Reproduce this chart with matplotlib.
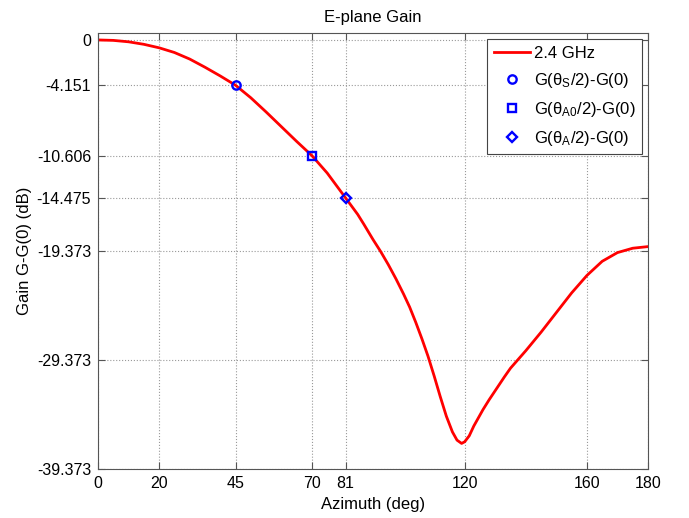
import matplotlib
matplotlib.use("Agg")
import matplotlib.pyplot as plt

plt.rcParams['font.family'] = ['Liberation Sans', 'DejaVu Sans']
plt.rcParams['mathtext.default'] = 'regular'

azimuth = [0, 5, 10, 15, 20, 25, 30, 35, 40, 45, 50, 55, 60, 65, 70, 75, 81, 85, 87,
           90, 92.5, 95, 97.5, 100, 102, 104, 106, 108, 110, 112, 114, 116, 117.5,
           119, 120, 121.5, 123, 126, 128, 130.5, 133, 135, 137.5, 140, 145, 150, 155,
           160, 165, 170, 175, 180]
gain = [0, -0.04, -0.17, -0.4, -0.72, -1.15, -1.75, -2.5, -3.3, -4.151, -5.3, -6.6,
        -7.95, -9.3, -10.606, -12.2, -14.475, -16.0, -16.9, -18.3, -19.4, -20.6, -21.9,
        -23.3, -24.5, -25.9, -27.4, -29.0, -30.8, -32.7, -34.5, -35.95, -36.7, -37.0,
        -36.85, -36.3, -35.4, -33.9, -33.0, -31.95, -30.9, -30.1, -29.3, -28.5, -26.8,
        -25.0, -23.2, -21.6, -20.3, -19.5, -19.1, -18.95]

mark_x = [45, 70, 81]
mark_y = [-4.151, -10.606, -14.475]
mark_labels = [r'G($\theta_S$/2)-G(0)', r'G($\theta_{A0}$/2)-G(0)', r'G($\theta_A$/2)-G(0)']
mark_shapes = ['o', 's', 'D']

xticks = [0, 20, 45, 70, 81, 120, 160, 180]
yticks = [0, -4.151, -10.606, -14.475, -19.373, -29.373, -39.373]
ytick_labels = ['0', '-4.151', '-10.606', '-14.475', '-19.373', '-29.373', '-39.373']

fig = plt.figure(figsize=(6.89, 5.18), dpi=100)
ax = fig.add_axes([98/689, 1-469.3/518, 550/689, 436/518])

ax.plot(azimuth, gain, color='red', lw=2, label='2.4 GHz')
sizes = {'o': 6, 's': 5.5, 'D': 4.8}
for x, y, lab, m in zip(mark_x, mark_y, mark_labels, mark_shapes):
    ax.plot([x], [y], m, mfc='none', mec='blue', mew=1.7, ms=sizes[m],
            label=lab, linestyle='none')

ax.set_xlim(0, 180)
ax.set_ylim(-39.373, 0.61)
ax.set_xticks(xticks)
ax.set_yticks(yticks)
ax.set_yticklabels(ytick_labels)
ax.tick_params(direction='in', length=5, labelsize=11.5, top=True, right=True,
               color='#555555', pad=5)
ax.grid(True, linestyle=':', color='#999999', lw=0.8)
for s in ax.spines.values():
    s.set_color('#555555')

ax.set_title('E-plane Gain', fontsize=12, pad=8)
ax.set_xlabel('Azimuth (deg)', fontsize=12, labelpad=4)
ax.set_ylabel('Gain G-G(0) (dB)', fontsize=12, labelpad=3)

leg = ax.legend(loc='upper right', fontsize=12, fancybox=False, edgecolor='#444444',
                framealpha=1, borderaxespad=0.35, handlelength=2.2, borderpad=0.4,
                labelspacing=0.6, handletextpad=0.2)
leg.get_frame().set_linewidth(0.8)

fig.savefig('out.png', dpi=100)
